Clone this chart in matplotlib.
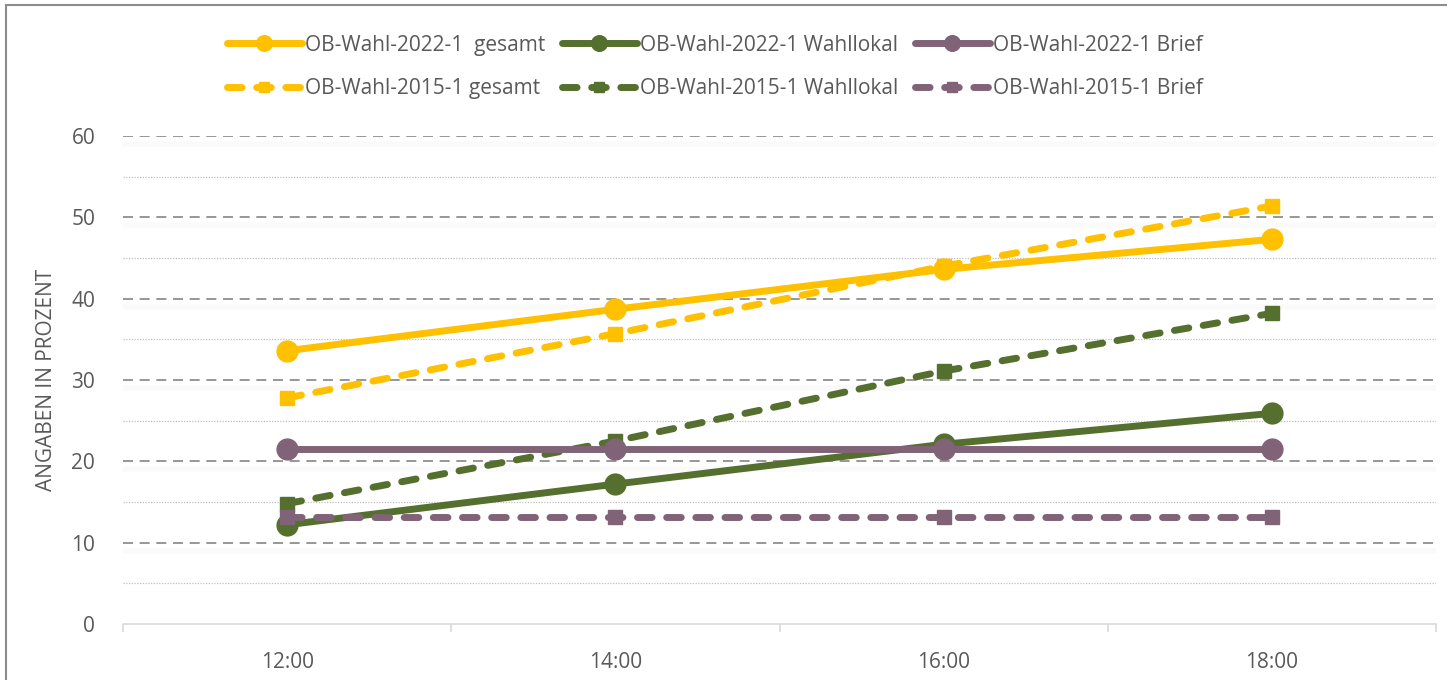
import numpy as np
import matplotlib.pyplot as plt
from matplotlib.lines import Line2D
from matplotlib.ticker import MultipleLocator, FixedLocator

plt.rcParams['font.family'] = ['Open Sans', 'DejaVu Sans']

TEXT_COLOR = "#595959"
YELLOW = "#FFC000"
GREEN = "#556F2E"
PURPLE = "#806377"

times = ["12:00", "14:00", "16:00", "18:00"]

gesamt_2022 = [33.6, 38.7, 43.6, 47.3]
wahllokal_2022 = [12.2, 17.2, 22.1, 25.9]
brief_2022 = [21.5, 21.5, 21.5, 21.5]

gesamt_2015 = [27.8, 35.7, 44.0, 51.4]
wahllokal_2015 = [14.8, 22.5, 31.1, 38.2]
brief_2015 = [13.2, 13.2, 13.2, 13.2]

labels_2022 = ["OB-Wahl-2022-1  gesamt", "OB-Wahl-2022-1 Wahllokal", "OB-Wahl-2022-1 Brief"]
labels_2015 = ["OB-Wahl-2015-1 gesamt", "OB-Wahl-2015-1 Wahllokal", "OB-Wahl-2015-1 Brief"]

fig = plt.figure(figsize=(14.47, 6.8), dpi=100)
ax = fig.add_axes([123 / 1447, 56 / 680, 1313 / 1447, 488 / 680])

x = np.arange(len(times))

# gridlines (major dashed, minor dotted, faint shadow below major)
for val in range(10, 61, 10):
    ax.axhline(val - 1.0, color="#fafafa", lw=4, zorder=0)
    ax.axhline(val, color="#858585", lw=1.2, ls=(0, (6, 4)), zorder=1)
for val in range(5, 60, 10):
    ax.axhline(val, color="#c0c0c0", lw=0.9, ls=(0, (1, 1.2)), zorder=1)

handles = []
series_2022 = [gesamt_2022, wahllokal_2022, brief_2022]
series_2015 = [gesamt_2015, wahllokal_2015, brief_2015]
colors = [YELLOW, GREEN, PURPLE]
for i in range(3):
    h1, = ax.plot(x, series_2022[i], color=colors[i], lw=5, marker="o", markersize=15,
                  solid_capstyle="round", label=labels_2022[i], zorder=3)
    h2, = ax.plot(x, series_2015[i], color=colors[i], lw=5, marker="s", markersize=10,
                  ls=(0, (2.1, 2.1)), dash_capstyle="round", label=labels_2015[i], zorder=3)
    handles += [h1, h2]

ax.set_xlim(-0.5, 3.5)
ax.set_ylim(0, 60)

ax.set_xticks(x)
ax.set_xticklabels(times)
ax.xaxis.set_minor_locator(FixedLocator(np.arange(-0.5, 4, 1)))
ax.tick_params(axis="x", which="major", length=0, pad=20, labelsize=15, labelcolor=TEXT_COLOR)
ax.tick_params(axis="x", which="minor", length=6, width=1.2, color="#d9d9d9")

ax.yaxis.set_major_locator(MultipleLocator(10))
ax.tick_params(axis="y", length=0, pad=20, labelsize=15, labelcolor=TEXT_COLOR)

for side in ["top", "right", "left"]:
    ax.spines[side].set_visible(False)
ax.spines["bottom"].set_color("#d9d9d9")
ax.spines["bottom"].set_linewidth(1.2)

ax.set_ylabel("ANGABEN IN PROZENT", fontsize=15, color=TEXT_COLOR)
ax.yaxis.set_label_coords(-0.050, 0.5)

fig.legend(handles=handles, ncol=3, loc="upper left", bbox_to_anchor=(208 / 1447, 1 - 16 / 680),
           frameon=False, fontsize=15, labelcolor=TEXT_COLOR, handlelength=3.6,
           handletextpad=0.15, columnspacing=0.8, markerscale=0.75, labelspacing=1.07)

# outer chart border
fig.add_artist(Line2D([6 / 1447, 6 / 1447], [0, 1 - 5 / 680], color="#8c8c8c", lw=1.5,
                      transform=fig.transFigure))
fig.add_artist(Line2D([6 / 1447, 1], [1 - 5 / 680, 1 - 5 / 680], color="#8c8c8c", lw=1.5,
                      transform=fig.transFigure))

fig.savefig("out.png", dpi=100)
